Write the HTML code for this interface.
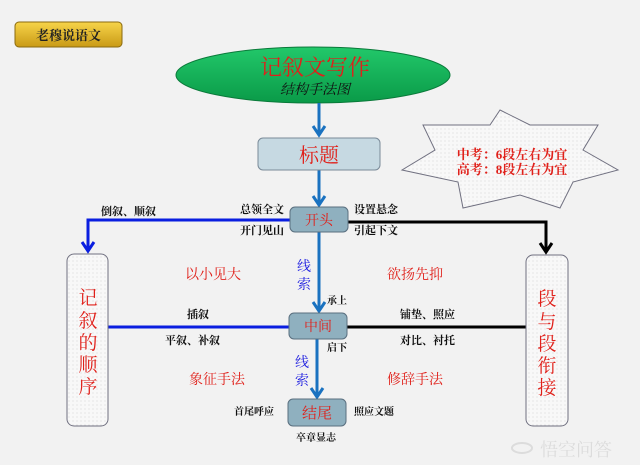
<!DOCTYPE html>
<html><head><meta charset="utf-8"><style>
html,body{margin:0;padding:0;background:#f2f2f2;}
svg{display:block}
text{font-family:"Liberation Serif","Noto Serif CJK SC","Noto Sans CJK SC",serif;}
</style></head><body>
<svg width="640" height="465" viewBox="0 0 640 465" xmlns="http://www.w3.org/2000/svg">
<defs>
<linearGradient id="gold" x1="0" y1="0" x2="0" y2="1"><stop offset="0" stop-color="#f7d449"/><stop offset="1" stop-color="#c99a16"/></linearGradient>
<linearGradient id="grn" x1="0" y1="0" x2="0" y2="1"><stop offset="0" stop-color="#22c86a"/><stop offset="1" stop-color="#0a9a48"/></linearGradient>
<pattern id="dots" width="4" height="4" patternUnits="userSpaceOnUse"><rect width="4" height="4" fill="#f8f8f8"/><circle cx="1" cy="1" r="0.5" fill="#c8c8c8"/></pattern>
</defs>
<rect width="640" height="465" fill="#f2f2f2"/>
<rect x="15" y="22" width="107" height="25" rx="4" fill="url(#gold)" stroke="#8a6a10"/>
<text x="68.5" y="40" font-size="13" font-weight="bold" text-anchor="middle" fill="#222">老穆说语文</text>

<ellipse cx="313" cy="75" rx="137" ry="28" fill="url(#grn)" stroke="#0a7a3a"/>
<text x="315" y="75" font-size="22" text-anchor="middle" fill="#e0201a">记叙文写作</text>
<text x="315" y="94" font-size="14" font-style="italic" text-anchor="middle" fill="#111">结构手法图</text>

<polygon points="500,110 530,125 598,125 583,150 618,170 573,182 560,208 520,195 463,208 458,182 402,170 435,150 423,125 490,125" fill="url(#dots)" stroke="#707080" stroke-width="1"/>
<text x="512" y="159" font-size="13" font-weight="bold" text-anchor="middle" fill="#e0201a">中考：6段左右为宜</text>
<text x="512" y="174" font-size="13" font-weight="bold" text-anchor="middle" fill="#e0201a">高考：8段左右为宜</text>

<g stroke="#1a72c0" stroke-width="3" fill="none">
<line x1="319" y1="103" x2="319" y2="134"/><polyline points="313,126 319,135 325,126"/>
<line x1="319" y1="170" x2="319" y2="204"/><polyline points="313,196 319,205 325,196"/>
<line x1="319" y1="231" x2="319" y2="310"/><polyline points="313,302 319,311 325,302"/>
<line x1="317" y1="339" x2="317" y2="396"/><polyline points="311,388 317,397 323,388"/>
</g>
<g stroke="#0a1ee0" stroke-width="3" fill="none">
<polyline points="291,220 88,220 88,250"/><polyline points="82,242 88,251 94,242"/>
<line x1="108" y1="327" x2="290" y2="327"/>
</g>
<g stroke="#000" stroke-width="3" fill="none">
<polyline points="348,222 546,222 546,251"/><polyline points="540,243 546,252 552,243"/>
<line x1="347" y1="327" x2="526" y2="327"/>
</g>

<rect x="258" y="138" width="122" height="32" rx="5" fill="#c6d9e2" stroke="#7a8a98"/>
<text x="319" y="162" font-size="20" text-anchor="middle" fill="#e0201a">标题</text>
<rect x="290" y="207" width="58" height="25" rx="5" fill="#8fb0bf" stroke="#5a6f7f"/>
<text x="319" y="225" font-size="14" text-anchor="middle" fill="#e0201a">开头</text>
<rect x="289" y="313" width="58" height="26" rx="5" fill="#8fb0bf" stroke="#5a6f7f"/>
<text x="318" y="331" font-size="14" text-anchor="middle" fill="#e0201a">中间</text>
<rect x="288" y="399" width="58" height="27" rx="5" fill="#8fb0bf" stroke="#5a6f7f"/>
<text x="317" y="418" font-size="15" text-anchor="middle" fill="#e0201a">结尾</text>

<rect x="67" y="254" width="41" height="172" rx="7" fill="url(#dots)" stroke="#707080"/>
<rect x="526" y="255" width="42" height="171" rx="7" fill="url(#dots)" stroke="#707080"/>
<g font-size="19" text-anchor="middle" fill="#e0201a">
<text x="88" y="304">记</text><text x="88" y="327">叙</text><text x="88" y="349">的</text><text x="88" y="371">顺</text><text x="88" y="393">序</text>
<text x="547" y="305">段</text><text x="547" y="328">与</text><text x="547" y="350">段</text><text x="547" y="372">衔</text><text x="547" y="394">接</text>
</g>

<g font-size="11" fill="#111" font-weight="bold">
<text x="101" y="215">倒叙、顺叙</text>
<text x="240" y="213">总领全文</text>
<text x="240" y="234">开门见山</text>
<text x="354" y="213">设置悬念</text>
<text x="354" y="234">引起下文</text>
<text x="187" y="318">插叙</text>
<text x="165" y="344">平叙、补叙</text>
<text x="400" y="318">铺垫、照应</text>
<text x="400" y="344">对比、衬托</text>
<text x="327" y="304" font-size="10">承上</text>
<text x="327" y="351" font-size="10">启下</text>
<text x="234" y="415" font-size="10">首尾呼应</text>
<text x="354" y="415" font-size="10">照应文题</text>
<text x="296" y="441" font-size="10">卒章显志</text>
</g>
<g font-size="14" fill="#e0201a">
<text x="185" y="279">以小见大</text>
<text x="387" y="279">欲扬先抑</text>
<text x="189" y="384">象征手法</text>
<text x="387" y="384">修辞手法</text>
</g>
<g font-size="14" fill="#1a1ae0" text-anchor="middle">
<text x="304" y="271">线</text><text x="304" y="289">索</text>
<text x="302" y="367">线</text><text x="302" y="385">索</text>
</g>
<g fill="none" stroke="#dcdcdc" stroke-width="2">
<ellipse cx="522" cy="448" rx="10" ry="5"/>
</g>
<text x="540" y="456" font-size="18" fill="#dcdcdc" font-family="'Noto Sans CJK SC',sans-serif">悟空问答</text>
</svg>
</body></html>
